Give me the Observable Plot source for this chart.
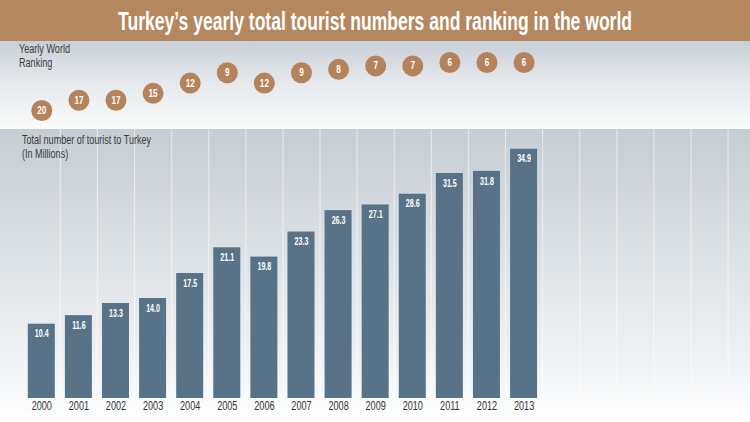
<!DOCTYPE html>
<html>
<head>
<meta charset="utf-8">
<script src="https://cdn.jsdelivr.net/npm/d3@7"></script>
<script src="https://cdn.jsdelivr.net/npm/@observablehq/plot@0.6"></script>
<style>
  body { margin: 0; background: #fff; }
  #wrap {
    position: relative; width: 750px; height: 422px; overflow: hidden;
    font-family: 'Liberation Sans', Arial, sans-serif;
  }
  #header {
    height: 41px; background: #b5875f;
    display: flex; align-items: center; justify-content: center;
  }
  #title {
    color: #fff; font-weight: bold; font-size: 25px; white-space: nowrap;
    display: inline-block; transform-origin: center; margin-top: 2px;
  }
  .panel { position: relative; line-height: 0; }
  .note {
    position: absolute; font-size: 12.5px; line-height: 14px; color: #3a3a3a;
    white-space: nowrap; transform-origin: left top;
  }
  svg text { font-family: 'Liberation Sans', Arial, sans-serif; }
</style>
</head>
<body>
<div id="wrap">
  <div id="header"><span id="title">Turkey’s yearly total tourist numbers and ranking in the world</span></div>
  <div class="panel" id="rankPanel"><div class="note" id="rankNote" style="left:19px;top:1px">Yearly World<br>Ranking</div></div>
  <div class="panel" id="barPanel"><div class="note" id="barNote" style="left:22px;top:4px">Total number of tourist to Turkey<br>(In Millions)</div></div>
</div>
<script>
// Yearly figures
const years = [2000, 2001, 2002, 2003, 2004, 2005, 2006, 2007, 2008, 2009, 2010, 2011, 2012, 2013];
const tourists = [10.4, 11.6, 13.3, 14.0, 17.5, 21.1, 19.8, 23.3, 26.3, 27.1, 28.6, 31.5, 31.8, 34.9]; // millions
const rankings = [20, 17, 17, 15, 12, 9, 12, 9, 8, 7, 7, 6, 6, 6]; // world ranking

const rows = years.map((year, i) => ({year, tourists: tourists[i], rank: rankings[i]}));

// Shared horizontal layout: one slot per year, with empty slots continuing to the right
const xDomain = [1999.5, 2018.5];
const slotEdges = d3.range(2000.5, 2019, 1);
const marginLeft = 22.75, marginRight = 22.4;
const brown = "#b5835b";
const slate = "#587388";

// Squeeze glyphs horizontally to get a condensed look
function condense(nodes, factor) {
  nodes.forEach(t => {
    const len = t.getComputedTextLength();
    t.setAttribute("textLength", (len * factor).toFixed(2));
    t.setAttribute("lengthAdjust", "spacingAndGlyphs");
  });
}

// World ranking bubbles
const rankPlot = Plot.plot({
  width: 750, height: 88,
  marginLeft, marginRight, marginTop: 21, marginBottom: 19,
  x: {domain: xDomain, axis: null},
  y: {domain: [20, 6], axis: null},
  style: {background: "linear-gradient(#c8cfd6 0%, #e4e8ec 45%, #fafbfb 100%)", overflow: "visible"},
  marks: [
    Plot.dot(rows, {x: "year", y: "rank", r: 10.5, fill: brown}),
    Plot.text(rows, {x: "year", y: "rank", text: d => String(d.rank), fill: "#fff", fontWeight: "bold", fontSize: 11, className: "rank-label"})
  ]
});
document.getElementById("rankPanel").prepend(rankPlot);
condense(rankPlot.querySelectorAll(".rank-label text"), 0.74);

// Tourist totals
const barPlot = Plot.plot({
  width: 750, height: 293,
  marginLeft, marginRight, marginTop: 19, marginBottom: 24,
  x: {domain: xDomain, axis: null},
  y: {domain: [0, 35], axis: null},
  style: {background: "linear-gradient(#c6cdd3 0%, #dde2e6 45%, #f3f5f7 85%, #ffffff 100%)", overflow: "visible"},
  marks: [
    Plot.ruleX(slotEdges, {stroke: "#ffffff", strokeOpacity: 0.5, strokeWidth: 1.2, insetTop: -19, insetBottom: -10}),
    Plot.rectY(rows, {x1: d => d.year - 0.364, x2: d => d.year + 0.364, y: "tourists", fill: slate}),
    Plot.text(rows, {x: "year", y: "tourists", text: d => d.tourists.toFixed(1), dy: 9.5, fill: "#fff", fontWeight: "bold", fontSize: 11.5, className: "value-label"}),
    Plot.axisX({ticks: years, tickFormat: d => String(d), tickSize: 0, tickPadding: 3, fontSize: 12, color: "#333", label: null, className: "year-axis"})
  ]
});
document.getElementById("barPanel").prepend(barPlot);
condense(barPlot.querySelectorAll(".value-label text"), 0.62);
condense(barPlot.querySelectorAll(".year-axis text"), 0.76);

// Condensed notes and title
function fitWidth(el, target) {
  const w = el.getBoundingClientRect().width;
  el.style.transform = `scaleX(${target / w})`;
}
fitWidth(document.getElementById("rankNote"), 51);
fitWidth(document.getElementById("barNote"), 129);
fitWidth(document.getElementById("title"), 514);
</script>
</body>
</html>
